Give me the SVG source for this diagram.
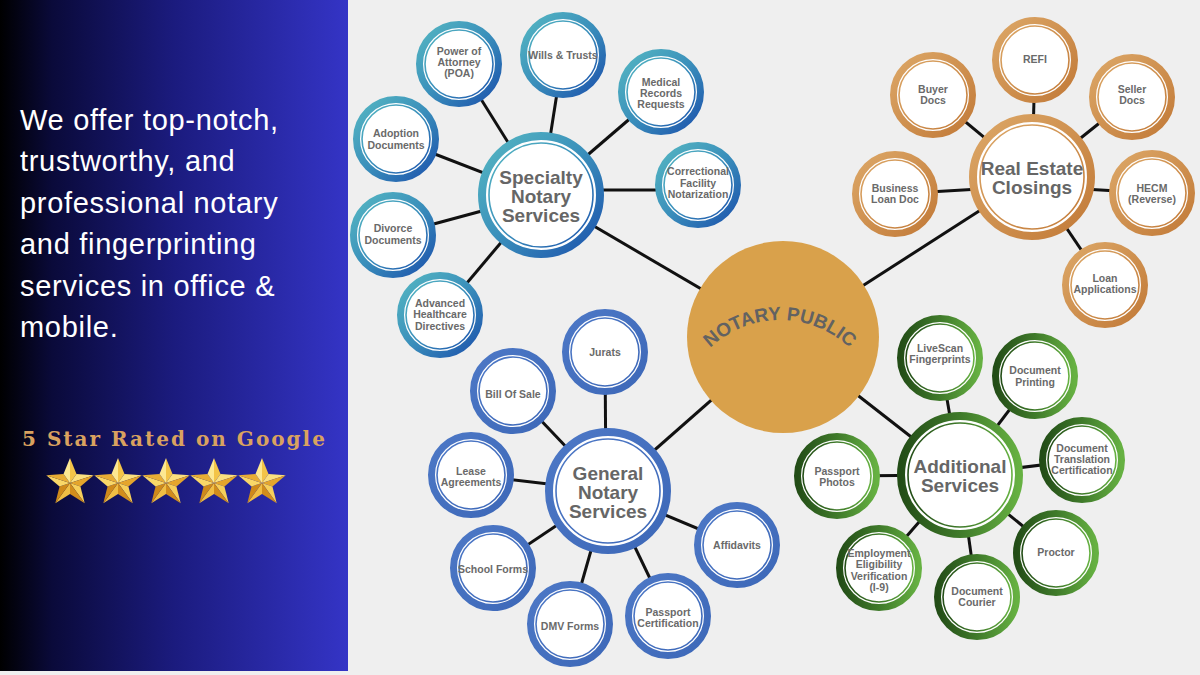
<svg xmlns="http://www.w3.org/2000/svg" xmlns:xlink="http://www.w3.org/1999/xlink" width="1200" height="675" viewBox="0 0 1200 675">
<defs>
  <linearGradient id="panelGrad" x1="0" y1="0" x2="1" y2="0">
    <stop offset="0" stop-color="#000000"/>
    <stop offset="0.15" stop-color="#0a0a3a"/>
    <stop offset="0.5" stop-color="#1b1b7e"/>
    <stop offset="1" stop-color="#3434c6"/>
  </linearGradient>
  <linearGradient id="gTeal" x1="0" y1="0" x2="1" y2="1">
    <stop offset="0" stop-color="#55b7c2"/>
    <stop offset="0.5" stop-color="#3a8fbb"/>
    <stop offset="1" stop-color="#1c52ac"/>
  </linearGradient>
  <linearGradient id="gOrange" x1="0" y1="0" x2="1" y2="1">
    <stop offset="0" stop-color="#dca767"/>
    <stop offset="1" stop-color="#c27a38"/>
  </linearGradient>
  <linearGradient id="gBlue" x1="0" y1="0" x2="1" y2="1">
    <stop offset="0" stop-color="#4d78c6"/>
    <stop offset="1" stop-color="#3d68b8"/>
  </linearGradient>
  <linearGradient id="gGreen" x1="0" y1="0" x2="1" y2="0">
    <stop offset="0" stop-color="#234d17"/>
    <stop offset="0.5" stop-color="#3f7a2a"/>
    <stop offset="1" stop-color="#66b142"/>
  </linearGradient>
  <path id="arcNP" d="M 690 375.2 A 101 101 0 0 1 870 375.2"/>
  <g id="star">
    <polygon points="0,0 0,-25 6.47,-8.9" fill="#f3c448"/>
    <polygon points="0,0 6.47,-8.9 23.78,-7.73" fill="#fbe07e"/>
    <polygon points="0,0 23.78,-7.73 10.46,3.4" fill="#e4a52c"/>
    <polygon points="0,0 10.46,3.4 14.69,20.23" fill="#f6cf5a"/>
    <polygon points="0,0 14.69,20.23 0,11" fill="#d18d1c"/>
    <polygon points="0,0 0,11 -14.69,20.23" fill="#f0be44"/>
    <polygon points="0,0 -14.69,20.23 -10.46,3.4" fill="#cf8a1a"/>
    <polygon points="0,0 -10.46,3.4 -23.78,-7.73" fill="#f9d768"/>
    <polygon points="0,0 -23.78,-7.73 -6.47,-8.9" fill="#e8ad34"/>
    <polygon points="0,0 -6.47,-8.9 0,-25" fill="#fde891"/>
  </g>
</defs>
<style>
  .bg { fill: #efefef; }
  .lead { font-family: "Liberation Sans", Arial, sans-serif; font-size: 29px; fill: #ffffff; letter-spacing: 0.7px; }
  .rated { font-family: "DejaVu Serif", "Liberation Serif", serif; font-weight: bold; font-size: 20px; fill: #d9a25f; letter-spacing: 2px; }
  .conn line { stroke: #111111; stroke-width: 3; }
  .teal .o, .teal .i { stroke: url(#gTeal); }
  .orange .o, .orange .i { stroke: url(#gOrange); }
  .blue .o, .blue .i { stroke: url(#gBlue); }
  .green .o, .green .i { stroke: url(#gGreen); }
  .o { fill: #ffffff; stroke-width: 7; }
  .i { fill: none; stroke-width: 1.6; }
  .hub .o { stroke-width: 8; }
  .lbl { font-family: "Liberation Sans", Arial, sans-serif; font-weight: bold; font-size: 10.5px; fill: #6a6a6a; text-anchor: middle; }
  .hubl { font-family: "Liberation Sans", Arial, sans-serif; font-weight: bold; font-size: 19px; fill: #666666; text-anchor: middle; }
  .np { font-family: "Liberation Sans", Arial, sans-serif; font-weight: bold; font-size: 19px; fill: #626262; }
</style>

<rect class="bg" x="0" y="0" width="1200" height="675"/>

<g id="left-panel">
  <rect x="0" y="0" width="348" height="671" fill="url(#panelGrad)"/>
  <text class="lead" x="20" y="130">We offer top-notch,</text>
  <text class="lead" x="20" y="171">trustworthy, and</text>
  <text class="lead" x="20" y="213">professional notary</text>
  <text class="lead" x="20" y="254">and fingerprinting</text>
  <text class="lead" x="20" y="296">services in office &amp;</text>
  <text class="lead" x="20" y="337">mobile.</text>
  <text class="rated" x="22" y="446">5 Star Rated on Google</text>
  <use xlink:href="#star" href="#star" x="70" y="483"/>
  <use xlink:href="#star" href="#star" x="118" y="483"/>
  <use xlink:href="#star" href="#star" x="166" y="483"/>
  <use xlink:href="#star" href="#star" x="214" y="483"/>
  <use xlink:href="#star" href="#star" x="262" y="483"/>
</g>

<g id="connectors" class="conn">
  <line x1="783" y1="337" x2="541" y2="195"/>
  <line x1="783" y1="337" x2="1032" y2="177"/>
  <line x1="783" y1="337" x2="608" y2="491"/>
  <line x1="783" y1="337" x2="960" y2="475"/>
  <line x1="541" y1="195" x2="459" y2="64"/>
  <line x1="541" y1="195" x2="563" y2="55"/>
  <line x1="541" y1="195" x2="661" y2="92"/>
  <line x1="541" y1="190" x2="698" y2="190"/>
  <line x1="541" y1="195" x2="396" y2="139"/>
  <line x1="541" y1="195" x2="393" y2="235"/>
  <line x1="541" y1="195" x2="440" y2="315"/>
  <line x1="1032" y1="177" x2="1035" y2="60"/>
  <line x1="1032" y1="177" x2="933" y2="95"/>
  <line x1="1032" y1="177" x2="1132" y2="97"/>
  <line x1="1032" y1="186" x2="895" y2="194"/>
  <line x1="1032" y1="186" x2="1152" y2="193"/>
  <line x1="1032" y1="177" x2="1105" y2="285"/>
  <line x1="606" y1="491" x2="605" y2="352"/>
  <line x1="608" y1="491" x2="513" y2="391"/>
  <line x1="608" y1="491" x2="471" y2="475"/>
  <line x1="608" y1="491" x2="493" y2="568"/>
  <line x1="608" y1="491" x2="570" y2="624"/>
  <line x1="608" y1="491" x2="668" y2="616"/>
  <line x1="608" y1="491" x2="737" y2="545"/>
  <line x1="960" y1="475" x2="940" y2="358"/>
  <line x1="960" y1="475" x2="1035" y2="376"/>
  <line x1="960" y1="475" x2="1082" y2="460"/>
  <line x1="960" y1="475" x2="1056" y2="553"/>
  <line x1="960" y1="475" x2="977" y2="597"/>
  <line x1="960" y1="475" x2="879" y2="568"/>
  <line x1="960" y1="475" x2="837" y2="476"/>
</g>

<g id="notary-public">
  <circle cx="783" cy="337" r="96" fill="#d9a14b"/>
  <text class="np"><textPath href="#arcNP" xlink:href="#arcNP" startOffset="50%" text-anchor="middle">NOTARY PUBLIC</textPath></text>
</g>

<g id="specialty-hub" class="teal hub">
  <circle class="o" cx="541" cy="195" r="59"/>
  <circle class="i" cx="541" cy="195" r="52"/>
  <text class="hubl" x="541" y="184">Specialty</text>
  <text class="hubl" x="541" y="203">Notary</text>
  <text class="hubl" x="541" y="222">Services</text>
</g>
<g id="poa" class="teal">
  <circle class="o" cx="459" cy="64" r="39.5"/>
  <circle class="i" cx="459" cy="64" r="34"/>
  <text class="lbl" x="459" y="55">Power of</text>
  <text class="lbl" x="459" y="66">Attorney</text>
  <text class="lbl" x="459" y="77">(POA)</text>
</g>
<g id="wills" class="teal">
  <circle class="o" cx="563" cy="55" r="39.5"/>
  <circle class="i" cx="563" cy="55" r="34"/>
  <text class="lbl" x="563" y="59">Wills &amp; Trusts</text>
</g>
<g id="medical" class="teal">
  <circle class="o" cx="661" cy="92" r="39.5"/>
  <circle class="i" cx="661" cy="92" r="34"/>
  <text class="lbl" x="661" y="86">Medical</text>
  <text class="lbl" x="661" y="97">Records</text>
  <text class="lbl" x="661" y="108">Requests</text>
</g>
<g id="correctional" class="teal">
  <circle class="o" cx="698" cy="185" r="39.5"/>
  <circle class="i" cx="698" cy="185" r="34"/>
  <text class="lbl" x="698" y="175">Correctional</text>
  <text class="lbl" x="698" y="187">Facility</text>
  <text class="lbl" x="698" y="198">Notarization</text>
</g>
<g id="adoption" class="teal">
  <circle class="o" cx="396" cy="139" r="39.5"/>
  <circle class="i" cx="396" cy="139" r="34"/>
  <text class="lbl" x="396" y="137">Adoption</text>
  <text class="lbl" x="396" y="149">Documents</text>
</g>
<g id="divorce" class="teal">
  <circle class="o" cx="393" cy="235" r="39.5"/>
  <circle class="i" cx="393" cy="235" r="34"/>
  <text class="lbl" x="393" y="232">Divorce</text>
  <text class="lbl" x="393" y="244">Documents</text>
</g>
<g id="healthcare" class="teal">
  <circle class="o" cx="440" cy="315" r="39.5"/>
  <circle class="i" cx="440" cy="315" r="34"/>
  <text class="lbl" x="440" y="307">Advanced</text>
  <text class="lbl" x="440" y="318">Healthcare</text>
  <text class="lbl" x="440" y="330">Directives</text>
</g>

<g id="realestate-hub" class="orange hub">
  <circle class="o" cx="1032" cy="177" r="59"/>
  <circle class="i" cx="1032" cy="177" r="52"/>
  <text class="hubl" x="1032" y="175">Real Estate</text>
  <text class="hubl" x="1032" y="194">Closings</text>
</g>
<g id="refi" class="orange">
  <circle class="o" cx="1035" cy="60" r="39.5"/>
  <circle class="i" cx="1035" cy="60" r="34"/>
  <text class="lbl" x="1035" y="63">REFI</text>
</g>
<g id="buyer" class="orange">
  <circle class="o" cx="933" cy="95" r="39.5"/>
  <circle class="i" cx="933" cy="95" r="34"/>
  <text class="lbl" x="933" y="93">Buyer</text>
  <text class="lbl" x="933" y="104">Docs</text>
</g>
<g id="seller" class="orange">
  <circle class="o" cx="1132" cy="97" r="39.5"/>
  <circle class="i" cx="1132" cy="97" r="34"/>
  <text class="lbl" x="1132" y="93">Seller</text>
  <text class="lbl" x="1132" y="104">Docs</text>
</g>
<g id="business" class="orange">
  <circle class="o" cx="895" cy="194" r="39.5"/>
  <circle class="i" cx="895" cy="194" r="34"/>
  <text class="lbl" x="895" y="192">Business</text>
  <text class="lbl" x="895" y="203">Loan Doc</text>
</g>
<g id="hecm" class="orange">
  <circle class="o" cx="1152" cy="193" r="39.5"/>
  <circle class="i" cx="1152" cy="193" r="34"/>
  <text class="lbl" x="1152" y="192">HECM</text>
  <text class="lbl" x="1152" y="203">(Reverse)</text>
</g>
<g id="loanapps" class="orange">
  <circle class="o" cx="1105" cy="285" r="39.5"/>
  <circle class="i" cx="1105" cy="285" r="34"/>
  <text class="lbl" x="1105" y="282">Loan</text>
  <text class="lbl" x="1105" y="293">Applications</text>
</g>

<g id="general-hub" class="blue hub">
  <circle class="o" cx="608" cy="491" r="59"/>
  <circle class="i" cx="608" cy="491" r="52"/>
  <text class="hubl" x="608" y="480">General</text>
  <text class="hubl" x="608" y="499">Notary</text>
  <text class="hubl" x="608" y="518">Services</text>
</g>
<g id="jurats" class="blue">
  <circle class="o" cx="605" cy="352" r="39.5"/>
  <circle class="i" cx="605" cy="352" r="34"/>
  <text class="lbl" x="605" y="356">Jurats</text>
</g>
<g id="billofsale" class="blue">
  <circle class="o" cx="513" cy="391" r="39.5"/>
  <circle class="i" cx="513" cy="391" r="34"/>
  <text class="lbl" x="513" y="398">Bill Of Sale</text>
</g>
<g id="lease" class="blue">
  <circle class="o" cx="471" cy="475" r="39.5"/>
  <circle class="i" cx="471" cy="475" r="34"/>
  <text class="lbl" x="471" y="475">Lease</text>
  <text class="lbl" x="471" y="486">Agreements</text>
</g>
<g id="school" class="blue">
  <circle class="o" cx="493" cy="568" r="39.5"/>
  <circle class="i" cx="493" cy="568" r="34"/>
  <text class="lbl" x="493" y="573">School Forms</text>
</g>
<g id="dmv" class="blue">
  <circle class="o" cx="570" cy="624" r="39.5"/>
  <circle class="i" cx="570" cy="624" r="34"/>
  <text class="lbl" x="570" y="630">DMV Forms</text>
</g>
<g id="passportcert" class="blue">
  <circle class="o" cx="668" cy="616" r="39.5"/>
  <circle class="i" cx="668" cy="616" r="34"/>
  <text class="lbl" x="668" y="616">Passport</text>
  <text class="lbl" x="668" y="627">Certification</text>
</g>
<g id="affidavits" class="blue">
  <circle class="o" cx="737" cy="545" r="39.5"/>
  <circle class="i" cx="737" cy="545" r="34"/>
  <text class="lbl" x="737" y="549">Affidavits</text>
</g>

<g id="additional-hub" class="green hub">
  <circle class="o" cx="960" cy="475" r="59"/>
  <circle class="i" cx="960" cy="475" r="52"/>
  <text class="hubl" x="960" y="473">Additional</text>
  <text class="hubl" x="960" y="492">Services</text>
</g>
<g id="livescan" class="green">
  <circle class="o" cx="940" cy="358" r="39.5"/>
  <circle class="i" cx="940" cy="358" r="34"/>
  <text class="lbl" x="940" y="352">LiveScan</text>
  <text class="lbl" x="940" y="363">Fingerprints</text>
</g>
<g id="docprinting" class="green">
  <circle class="o" cx="1035" cy="376" r="39.5"/>
  <circle class="i" cx="1035" cy="376" r="34"/>
  <text class="lbl" x="1035" y="374">Document</text>
  <text class="lbl" x="1035" y="386">Printing</text>
</g>
<g id="translation" class="green">
  <circle class="o" cx="1082" cy="460" r="39.5"/>
  <circle class="i" cx="1082" cy="460" r="34"/>
  <text class="lbl" x="1082" y="452">Document</text>
  <text class="lbl" x="1082" y="463">Translation</text>
  <text class="lbl" x="1082" y="474">Certification</text>
</g>
<g id="proctor" class="green">
  <circle class="o" cx="1056" cy="553" r="39.5"/>
  <circle class="i" cx="1056" cy="553" r="34"/>
  <text class="lbl" x="1056" y="556">Proctor</text>
</g>
<g id="courier" class="green">
  <circle class="o" cx="977" cy="597" r="39.5"/>
  <circle class="i" cx="977" cy="597" r="34"/>
  <text class="lbl" x="977" y="595">Document</text>
  <text class="lbl" x="977" y="606">Courier</text>
</g>
<g id="employment" class="green">
  <circle class="o" cx="879" cy="568" r="39.5"/>
  <circle class="i" cx="879" cy="568" r="34"/>
  <text class="lbl" x="879" y="557">Employment</text>
  <text class="lbl" x="879" y="568">Eligibility</text>
  <text class="lbl" x="879" y="580">Verification</text>
  <text class="lbl" x="879" y="591">(I-9)</text>
</g>
<g id="passportphotos" class="green">
  <circle class="o" cx="837" cy="476" r="39.5"/>
  <circle class="i" cx="837" cy="476" r="34"/>
  <text class="lbl" x="837" y="475">Passport</text>
  <text class="lbl" x="837" y="486">Photos</text>
</g>
</svg>
